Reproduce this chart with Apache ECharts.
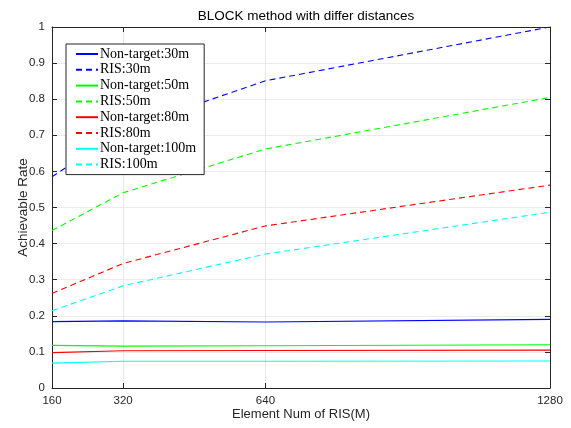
<!DOCTYPE html>
<html>
<head>
<meta charset="utf-8">
<script src="https://cdn.jsdelivr.net/npm/echarts@6/dist/echarts.min.js"></script>
<style>html,body{margin:0;padding:0;background:#fff}#c{width:571px;height:428px}</style>
</head>
<body>
<div id="c"></div>
<script>
const xValues = [160, 320, 640, 1280];
const xTicks = [160, 320, 640, 1280];
const nonTarget30 = [0.184, 0.186, 0.183, 0.190];
const ris30 = [0.585, 0.716, 0.851, 1.000];
const nonTarget50 = [0.118, 0.116, 0.117, 0.120];
const ris50 = [0.436, 0.541, 0.662, 0.805];
const nonTarget80 = [0.098, 0.103, 0.104, 0.105];
const ris80 = [0.262, 0.345, 0.449, 0.562];
const nonTarget100 = [0.069, 0.074, 0.074, 0.075];
const ris100 = [0.214, 0.283, 0.371, 0.487];

const seriesDefs = [
  ['Non-target:30m', nonTarget30, '#0000ff', 'solid'],
  ['RIS:30m', ris30, '#0000ff', 'dashed'],
  ['Non-target:50m', nonTarget50, '#00ff00', 'solid'],
  ['RIS:50m', ris50, '#00ff00', 'dashed'],
  ['Non-target:80m', nonTarget80, '#ff0000', 'solid'],
  ['RIS:80m', ris80, '#ff0000', 'dashed'],
  ['Non-target:100m', nonTarget100, '#00ffff', 'solid'],
  ['RIS:100m', ris100, '#00ffff', 'dashed']
];

const axisColor = '#262626';
const sans = 'Liberation Sans, Arial, sans-serif';
const chart = echarts.init(document.getElementById('c'), null, {renderer: 'canvas'});
const series = seriesDefs.map(([name, vals, color, type]) => ({
  name,
  type: 'line',
  xAxisIndex: 0,
  yAxisIndex: 0,
  data: xValues.map((x, i) => [x, vals[i]]),
  symbol: 'none',
  color,
  lineStyle: {color, width: 1.1, type: type === 'dashed' ? [6, 4] : 'solid'},
  animation: false,
  z: 3
}));

chart.setOption({
  animation: false,
  title: {
    text: 'BLOCK method with differ distances',
    left: 301, top: 4, textAlign: 'center',
    textStyle: {fontFamily: sans, fontSize: 13.5, fontWeight: 'normal', color: '#000'}
  },
  grid: {left: 52, right: 21, top: 27, bottom: 40},
  legend: {
    orient: 'vertical',
    left: 66, top: 44,
    data: seriesDefs.map(d => d[0]),
    backgroundColor: '#fff',
    borderColor: '#262626',
    borderWidth: 1,
    borderRadius: 0,
    padding: [3, 8, 3, 9],
    itemWidth: 22,
    itemHeight: 8,
    itemGap: 1.8,
    selectedMode: false,
    itemStyle: {opacity: 0},
    textStyle: {fontFamily: 'Liberation Serif, Times New Roman, serif', fontSize: 14, color: '#000', lineHeight: 14, padding: [0, 0, 0, -3]}
  },
  xAxis: [{
    type: 'value', min: 160, max: 1280,
    name: 'Element Num of RIS(M)', nameLocation: 'middle', nameGap: 20, nameMoveOverlap: false,
    nameTextStyle: {fontFamily: sans, fontSize: 13, color: axisColor},
    axisLine: {show: true, onZero: false, lineStyle: {color: axisColor, width: 1}},
    axisTick: {show: true, inside: true, length: 5, customValues: xTicks, lineStyle: {color: axisColor}},
    axisLabel: {show: true, customValues: xTicks, margin: 7, fontFamily: sans, fontSize: 11.5, color: axisColor,
      formatter: v => String(v)},
    splitLine: {show: true, lineStyle: {color: '#e8e8e8', width: 1}}
  }, {
    type: 'value', min: 160, max: 1280, position: 'top',
    axisLine: {show: true, onZero: false, lineStyle: {color: axisColor, width: 1}},
    axisTick: {show: true, inside: true, length: 5, customValues: xTicks, lineStyle: {color: axisColor}},
    axisLabel: {show: false, customValues: xTicks},
    splitLine: {show: false}
  }],
  yAxis: [{
    type: 'value', min: 0, max: 1, interval: 0.1,
    name: 'Achievable Rate', nameLocation: 'middle', nameGap: 22, nameMoveOverlap: false,
    nameTextStyle: {fontFamily: sans, fontSize: 13.5, color: axisColor},
    axisLine: {show: true, onZero: false, lineStyle: {color: axisColor, width: 1}},
    axisTick: {show: true, inside: true, length: 5, lineStyle: {color: axisColor}},
    axisLabel: {margin: 7, fontFamily: sans, fontSize: 11.5, color: axisColor,
      formatter: v => String(Math.round(v * 10) / 10)},
    splitLine: {show: true, lineStyle: {color: '#ebebeb', width: 1}}
  }, {
    type: 'value', min: 0, max: 1, interval: 0.1, position: 'right',
    axisLine: {show: true, onZero: false, lineStyle: {color: axisColor, width: 1}},
    axisTick: {show: true, inside: true, length: 5, lineStyle: {color: axisColor}},
    axisLabel: {show: false},
    splitLine: {show: false}
  }],
  series
});
</script>
</body>
</html>
